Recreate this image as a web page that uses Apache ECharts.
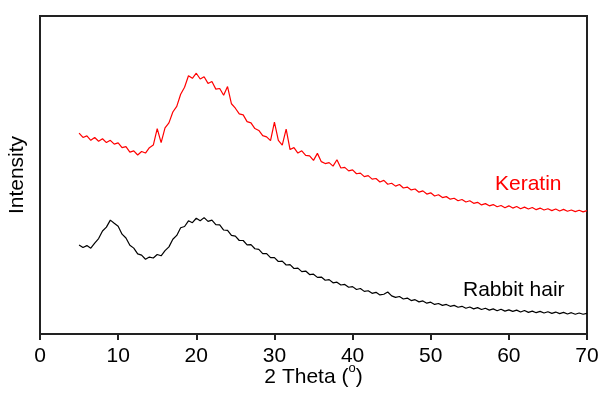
<!DOCTYPE html>
<html>
<head>
<meta charset="utf-8">
<script src="https://cdn.jsdelivr.net/npm/echarts@6/dist/echarts.min.js"></script>
<style>
  html, body { margin: 0; padding: 0; background: #fff; }
  #chart { width: 600px; height: 394px; }
</style>
</head>
<body>
<div id="chart"></div>
<script>
// 2 theta sampling (degrees)
const twoTheta = [
  5, 5.5, 6, 6.5, 7, 7.5, 8, 8.5, 9, 9.5,
  10, 10.5, 11, 11.5, 12, 12.5, 13, 13.5, 14, 14.5,
  15, 15.5, 16, 16.5, 17, 17.5, 18, 18.5, 19, 19.5,
  20, 20.5, 21, 21.5, 22, 22.5, 23, 23.5, 24, 24.5,
  25, 25.5, 26, 26.5, 27, 27.5, 28, 28.5, 29, 29.5,
  30, 30.5, 31, 31.5, 32, 32.5, 33, 33.5, 34, 34.5,
  35, 35.5, 36, 36.5, 37, 37.5, 38, 38.5, 39, 39.5,
  40, 40.5, 41, 41.5, 42, 42.5, 43, 43.5, 44, 44.5,
  45, 45.5, 46, 46.5, 47, 47.5, 48, 48.5, 49, 49.5,
  50, 50.5, 51, 51.5, 52, 52.5, 53, 53.5, 54, 54.5,
  55, 55.5, 56, 56.5, 57, 57.5, 58, 58.5, 59, 59.5,
  60, 60.5, 61, 61.5, 62, 62.5, 63, 63.5, 64, 64.5,
  65, 65.5, 66, 66.5, 67, 67.5, 68, 68.5, 69, 69.5,
  70
];

// keratin intensity (arbitrary units, offset)
const keratin = [
  63.2, 61.8, 62.3, 60.9, 61.8, 60.6, 61.4, 60.2, 60.9, 59.7,
  60.1, 58.6, 58.9, 57.2, 57.6, 56.3, 57.4, 56.9, 58.6, 59.4,
  64.6, 60.2, 64.8, 66.4, 69.8, 71.6, 75.4, 77.6, 81.2, 80.4,
  82.0, 80.2, 80.9, 78.8, 79.4, 77.0, 77.2, 75.1, 77.8, 72.4,
  71.0, 69.2, 68.9, 66.8, 66.4, 64.6, 64.0, 62.4, 62.0, 60.8,
  66.6, 60.9, 59.4, 64.4, 58.0, 58.6, 56.9, 57.6, 56.2, 56.0,
  54.6, 56.8, 54.2, 53.6, 53.9, 52.8, 54.8, 52.2, 52.4, 51.3,
  51.6, 50.4, 50.6, 49.5, 49.8, 48.7, 48.9, 47.8, 48.3, 47.1,
  47.4, 46.5, 47.0, 45.9, 46.2, 45.3, 45.6, 44.6, 45.0, 44.0,
  44.4, 43.4, 43.8, 42.9, 43.2, 42.4, 42.7, 41.9, 42.3, 41.5,
  41.9, 41.1, 41.4, 40.6, 41.0, 40.3, 40.7, 40.0, 40.4, 39.7,
  40.3, 39.6, 40.1, 39.4, 39.9, 39.3, 39.8, 39.1, 39.6, 39.0,
  39.4, 38.8, 39.3, 38.7, 39.2, 38.6, 39.0, 38.5, 38.9, 38.4,
  38.8
];

// rabbit hair intensity
const rabbitHair = [
  28.0, 27.2, 27.8, 27.0, 28.6, 30.0, 32.4, 33.6, 35.8, 34.8,
  33.9, 31.4, 30.2, 27.9, 27.0, 25.2, 24.8, 23.5, 24.2, 23.9,
  25.0, 24.6, 26.2, 27.4, 29.8, 31.0, 33.4, 33.8, 35.6, 35.0,
  36.4, 35.6, 36.6, 35.4, 35.8, 34.4, 34.3, 32.7, 32.6, 31.0,
  30.8, 29.4, 29.4, 28.0, 28.1, 26.8, 26.6, 25.3, 25.3, 24.0,
  24.0, 22.8, 22.9, 21.7, 21.8, 20.6, 20.7, 19.6, 19.8, 18.7,
  18.8, 17.8, 17.9, 16.9, 17.1, 16.1, 16.3, 15.4, 15.6, 14.7,
  14.9, 14.0, 14.3, 13.4, 13.6, 12.8, 13.1, 12.3, 12.5, 13.2,
  12.0, 11.5, 11.8, 11.0, 11.3, 10.5, 10.8, 10.1, 10.4, 9.7,
  10.0, 9.3, 9.6, 9.0, 9.3, 8.7, 9.0, 8.4, 8.7, 8.1,
  8.5, 7.9, 8.3, 7.7, 8.1, 7.5, 7.9, 7.3, 7.8, 7.2,
  7.6, 7.1, 7.5, 6.9, 7.4, 6.8, 7.2, 6.7, 7.1, 6.6,
  7.0, 6.5, 6.9, 6.4, 6.8, 6.3, 6.7, 6.2, 6.6, 6.2,
  6.5
];

const FONT = '"Liberation Sans", Arial, sans-serif';

function pairs(xs, ys) {
  return xs.map((x, i) => [x, ys[i]]);
}

const chart = echarts.init(document.getElementById('chart'), null, { renderer: 'canvas' });

chart.setOption({
  animation: false,
  backgroundColor: '#fff',
  grid: {
    left: 40,
    right: 13,
    top: 16,
    bottom: 60,
    outerBoundsMode: 'none',
    containLabel: false,
    show: true,
    borderColor: '#222',
    borderWidth: 2,
  },
  xAxis: {
    type: 'value',
    min: 0,
    max: 70,
    interval: 10,
    name: '{t|2 Theta (}{sup|o}{t|)}',
    nameLocation: 'middle',
    nameGap: 28,
    nameMoveOverlap: false,
    nameTextStyle: {
      fontFamily: FONT,
      fontSize: 21,
      color: '#000',
      verticalAlign: 'top',
      rich: {
        t: { fontFamily: FONT, fontSize: 21, color: '#000', lineHeight: 30, verticalAlign: 'middle' },
        sup: { fontFamily: FONT, fontSize: 13, color: '#000', lineHeight: 13, verticalAlign: 'top' },
      },
    },
    axisLine: { lineStyle: { color: '#222', width: 2 } },
    axisTick: { inside: false, length: 6, lineStyle: { color: '#222', width: 2 } },
    axisLabel: { fontFamily: FONT, fontSize: 21, color: '#000', margin: 12 },
    splitLine: { show: false },
  },
  yAxis: {
    type: 'value',
    min: 0,
    max: 100,
    name: 'Intensity',
    nameLocation: 'middle',
    nameGap: 12,
    nameTextStyle: { fontFamily: FONT, fontSize: 21, color: '#000' },
    axisLine: { show: true, lineStyle: { color: '#222', width: 2 } },
    axisTick: { show: false },
    axisLabel: { show: false },
    splitLine: { show: false },
  },
  graphic: [
    {
      type: 'text',
      left: 495,
      top: 174,
      style: { text: 'Keratin', fill: '#ff0000', font: '21px ' + FONT },
    },
    {
      type: 'text',
      left: 463,
      top: 280,
      style: { text: 'Rabbit hair', fill: '#000', font: '21px ' + FONT },
    },
  ],
  series: [
    {
      name: 'Keratin',
      type: 'line',
      data: pairs(twoTheta, keratin),
      showSymbol: false,
      lineStyle: { color: '#ff0000', width: 1.2 },
    },
    {
      name: 'Rabbit hair',
      type: 'line',
      data: pairs(twoTheta, rabbitHair),
      showSymbol: false,
      lineStyle: { color: '#000', width: 1.2 },
    },
  ],
});
</script>
</body>
</html>
